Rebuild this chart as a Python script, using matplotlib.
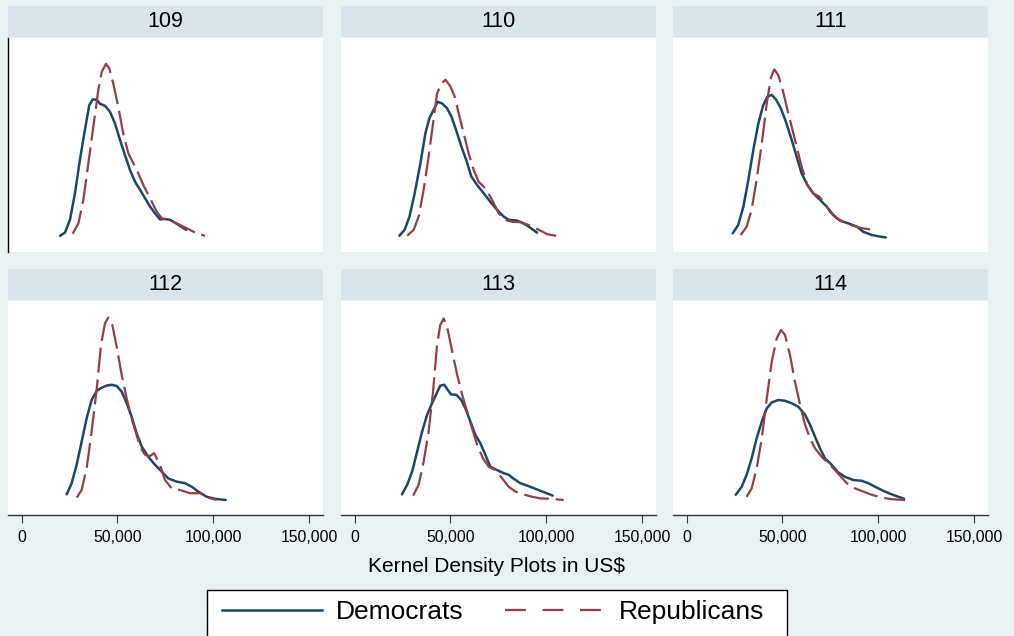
import matplotlib
matplotlib.use("Agg")
import matplotlib.pyplot as plt
from matplotlib.lines import Line2D
from matplotlib.patches import Rectangle
from matplotlib.ticker import FuncFormatter
import numpy as np

plt.rcParams['font.family'] = ['Liberation Sans', 'DejaVu Sans']
plt.rcParams['lines.scale_dashes'] = False

# ---- data: kernel density estimates (x in $1000, density in 1e-5 per $) ----
congresses = ["109", "110", "111", "112", "113", "114"]
series_names = ["Democrats", "Republicans"]
tick_values = [0, 50000, 100000, 150000]
x_label = "Kernel Density Plots in US$"

dem_109_x = [20.0, 22.6, 25.2, 27.8, 30.4, 33.0, 35.3, 37.1, 39.2, 40.9, 43.5, 46.1, 48.7, 51.3,
             53.9, 56.5, 59.2, 61.8, 64.4, 67.0, 69.6, 72.2, 74.8, 77.4, 80.0, 82.6, 85.8]
dem_109_y = [0.08, 0.16, 0.48, 1.14, 1.98, 2.73, 3.35, 3.49, 3.48, 3.38, 3.33, 3.18, 2.89, 2.48,
             2.10, 1.73, 1.43, 1.23, 1.02, 0.81, 0.64, 0.49, 0.50, 0.48, 0.41, 0.33, 0.23]
rep_109_x = [26.6, 29.6, 32.2, 34.8, 37.4, 40.0, 41.8, 44.0, 45.7, 47.8, 50.4, 53.0, 55.7, 58.3,
             60.9, 63.5, 67.0, 70.5, 73.1, 76.5, 80.9, 86.1, 91.4, 95.7]
rep_109_y = [0.13, 0.39, 0.98, 1.89, 2.81, 3.73, 4.18, 4.38, 4.27, 3.89, 3.31, 2.64, 2.14, 1.89,
             1.64, 1.35, 1.02, 0.68, 0.52, 0.48, 0.39, 0.27, 0.14, 0.08]

dem_110_x = [23.3, 26.1, 28.6, 31.3, 34.3, 36.9, 39.0, 41.2, 43.3, 45.6, 48.2, 50.5, 52.9, 55.7,
             58.2, 60.9, 63.9, 67.4, 70.8, 74.3, 77.8, 80.4, 84.8, 87.4, 90.8, 95.2]
dem_110_y = [0.08, 0.23, 0.56, 1.14, 1.89, 2.64, 3.02, 3.23, 3.43, 3.39, 3.27, 3.06, 2.73, 2.31,
             1.98, 1.56, 1.35, 1.14, 0.93, 0.73, 0.56, 0.48, 0.46, 0.41, 0.31, 0.16]
rep_110_x = [27.4, 30.8, 33.4, 36.0, 38.6, 40.9, 43.0, 45.3, 47.4, 50.0, 52.2, 54.3, 56.9, 59.5,
             62.1, 64.7, 68.2, 71.7, 75.2, 78.3, 82.2, 86.5, 90.8, 96.1, 100.5, 105.2]
rep_110_y = [0.08, 0.23, 0.56, 1.23, 2.06, 2.89, 3.64, 3.89, 3.98, 3.81, 3.56, 3.14, 2.64, 2.14,
             1.73, 1.43, 1.27, 0.98, 0.64, 0.48, 0.43, 0.42, 0.35, 0.23, 0.12, 0.08]

dem_111_x = [24.0, 26.9, 29.6, 32.2, 34.8, 37.4, 40.0, 42.1, 44.4, 46.6, 49.1, 51.8, 54.8, 57.4,
             60.0, 63.0, 66.1, 69.6, 73.1, 76.5, 80.0, 84.4, 88.8, 92.2, 96.6, 100.9, 103.9]
dem_111_y = [0.14, 0.35, 0.81, 1.48, 2.23, 2.89, 3.35, 3.56, 3.60, 3.49, 3.27, 2.93, 2.48, 2.06,
             1.64, 1.35, 1.14, 0.98, 0.81, 0.60, 0.46, 0.39, 0.31, 0.18, 0.10, 0.06, 0.04]
rep_111_x = [28.2, 31.3, 33.9, 36.5, 39.2, 41.8, 43.9, 45.7, 47.8, 50.1, 52.2, 54.8, 57.4, 60.0,
             63.0, 66.1, 69.2, 72.2, 74.8, 78.3, 82.6, 87.0, 91.4, 95.7]
rep_111_y = [0.10, 0.31, 0.73, 1.48, 2.39, 3.39, 4.02, 4.24, 4.10, 3.73, 3.31, 2.81, 2.31, 1.81,
             1.35, 1.14, 1.06, 0.89, 0.68, 0.52, 0.41, 0.33, 0.27, 0.24]

dem_112_x = [23.5, 26.1, 28.7, 31.3, 33.9, 36.5, 39.2, 41.8, 44.4, 47.0, 49.6, 52.2, 54.8, 57.4,
             60.0, 62.7, 66.1, 69.6, 73.1, 76.5, 80.9, 85.3, 88.8, 92.2, 96.6, 100.9, 106.5]
dem_112_y = [0.19, 0.47, 0.93, 1.51, 2.09, 2.55, 2.78, 2.86, 2.91, 2.93, 2.90, 2.76, 2.47, 2.13,
             1.72, 1.38, 1.13, 0.93, 0.76, 0.59, 0.51, 0.47, 0.38, 0.26, 0.13, 0.08, 0.05]
rep_112_x = [28.7, 31.3, 33.9, 36.5, 39.2, 41.4, 43.5, 45.2, 47.3, 49.6, 52.2, 54.8, 57.4, 59.2,
             61.8, 64.4, 67.0, 69.1, 72.2, 74.8, 78.3, 82.6, 87.9, 93.1, 96.6, 101.8]
rep_112_y = [0.11, 0.30, 0.84, 1.76, 2.84, 3.93, 4.47, 4.61, 4.43, 3.88, 3.18, 2.59, 2.09, 1.80,
             1.38, 1.18, 1.15, 1.22, 0.93, 0.55, 0.34, 0.30, 0.22, 0.22, 0.12, 0.05]

dem_113_x = [24.7, 27.4, 30.0, 32.6, 35.2, 37.8, 40.4, 43.0, 44.7, 46.8, 48.6, 50.3, 53.1, 55.6,
             57.8, 60.4, 63.0, 65.6, 68.2, 70.8, 74.3, 77.8, 80.4, 83.0, 86.5, 91.7, 97.0, 103.4]
dem_113_y = [0.19, 0.43, 0.76, 1.26, 1.76, 2.18, 2.47, 2.74, 2.91, 2.93, 2.80, 2.69, 2.68, 2.55,
             2.34, 2.01, 1.68, 1.47, 1.18, 0.88, 0.80, 0.72, 0.68, 0.58, 0.47, 0.38, 0.28, 0.16]
rep_113_x = [30.5, 33.4, 36.0, 38.6, 40.9, 43.0, 44.7, 46.5, 48.6, 50.9, 53.5, 56.1, 58.7, 61.3,
             63.9, 67.0, 70.0, 73.5, 77.0, 80.4, 83.9, 88.2, 92.6, 97.0, 102.2, 109.1]
rep_113_y = [0.16, 0.43, 1.01, 1.76, 2.76, 3.93, 4.43, 4.59, 4.30, 3.76, 3.18, 2.68, 2.26, 1.84,
             1.43, 1.09, 0.88, 0.80, 0.59, 0.38, 0.26, 0.19, 0.13, 0.09, 0.08, 0.05]

dem_114_x = [25.6, 28.7, 31.3, 33.9, 36.5, 39.2, 41.8, 44.4, 47.8, 51.3, 54.8, 58.3, 61.8, 64.4,
             67.0, 69.6, 72.2, 75.7, 79.1, 82.6, 87.0, 91.4, 94.8, 99.2, 103.5, 108.8, 113.5]
dem_114_y = [0.18, 0.38, 0.68, 1.09, 1.59, 2.01, 2.34, 2.49, 2.55, 2.53, 2.47, 2.38, 2.18, 1.93,
             1.63, 1.34, 1.09, 0.93, 0.74, 0.63, 0.55, 0.53, 0.47, 0.36, 0.26, 0.16, 0.08]
rep_114_x = [31.3, 33.9, 36.5, 39.2, 41.8, 44.4, 47.0, 49.2, 51.3, 53.9, 56.5, 59.2, 61.8, 64.4,
             67.0, 70.5, 73.9, 77.4, 80.9, 84.4, 87.9, 92.2, 96.6, 101.8, 107.0, 114.0]
rep_114_y = [0.13, 0.34, 0.84, 1.59, 2.59, 3.51, 4.09, 4.30, 4.18, 3.68, 3.01, 2.43, 1.93, 1.59,
             1.34, 1.13, 0.97, 0.80, 0.61, 0.43, 0.34, 0.26, 0.18, 0.11, 0.07, 0.05]

dem_x = [dem_109_x, dem_110_x, dem_111_x, dem_112_x, dem_113_x, dem_114_x]
dem_y = [dem_109_y, dem_110_y, dem_111_y, dem_112_y, dem_113_y, dem_114_y]
rep_x = [rep_109_x, rep_110_x, rep_111_x, rep_112_x, rep_113_x, rep_114_x]
rep_y = [rep_109_y, rep_110_y, rep_111_y, rep_112_y, rep_113_y, rep_114_y]

# ---- style ----
BG = "#EAF1F3"
STRIP = "#D9E5EA"
NAVY = "#1A476F"
MAROON = "#9A3C44"
W, H = 1014, 636

fig = plt.figure(figsize=(W / 100, H / 100), dpi=100, facecolor=BG)

col_left = [8, 341, 673]
row_top = [38, 301]
pw, ph = 315, 214
strip_h = 31

def fx(px):
    return px / W

def fy(py):
    return 1 - py / H

fmt = FuncFormatter(lambda v, p: f"{int(v):,}")

for i, cong in enumerate(congresses):
    r, c = divmod(i, 3)
    left, top = col_left[c], row_top[r]
    ax = fig.add_axes([fx(left), fy(top + ph), pw / W, ph / H])
    ax.set_facecolor("white")
    ax.plot(np.array(dem_x[i]) * 1000, dem_y[i], color=NAVY, lw=1.8,
            solid_capstyle="round", solid_joinstyle="round", label=series_names[0])
    ax.plot(np.array(rep_x[i]) * 1000, rep_y[i], color=MAROON, lw=1.6,
            dashes=(18, 5), label=series_names[1])
    ax.set_xlim(-7150, 157300)
    ax.set_ylim(-0.325, 5.025)
    ax.set_yticks([])
    for s in ["top", "right"]:
        ax.spines[s].set_visible(False)
    ax.spines["left"].set_visible(i == 0)
    ax.spines["left"].set_linewidth(1.0)
    if r == 1:
        ax.set_xticks(tick_values)
        ax.xaxis.set_major_formatter(fmt)
        ax.tick_params(axis="x", length=6, width=0.8, pad=5, labelsize=11.3,
                       color="#333333")
        ax.spines["bottom"].set_linewidth(1.0)
        ax.spines["bottom"].set_color("#333333")
    else:
        ax.set_xticks([])
        ax.spines["bottom"].set_visible(False)
    # strip header
    sax = fig.add_axes([fx(left), fy(top - 1), pw / W, strip_h / H])
    sax.set_facecolor(STRIP)
    sax.set_xticks([]); sax.set_yticks([])
    for s in sax.spines.values():
        s.set_visible(False)
    sax.text(0.5, 0.5, cong, ha="center", va="center", fontsize=15.5,
             transform=sax.transAxes)

fig.text(fx(497), fy(566), x_label, ha="center", va="center", fontsize=15)

# legend box
fig.patches.append(Rectangle((fx(207), -0.05), fx(787) - fx(207), fy(590) + 0.05,
                             transform=fig.transFigure, facecolor="white",
                             edgecolor="black", lw=1.0, zorder=0))
handles = [Line2D([], [], color=NAVY, lw=1.8),
           Line2D([], [], color=MAROON, lw=1.6, dashes=(15, 12))]
fig.legend(handles, series_names, loc="center", bbox_to_anchor=(fx(493), fy(612)),
           ncol=2, frameon=False, fontsize=19, handlelength=3.8, handletextpad=0.5,
           columnspacing=1.6)

fig.savefig("out.png", dpi=100, facecolor=BG)
